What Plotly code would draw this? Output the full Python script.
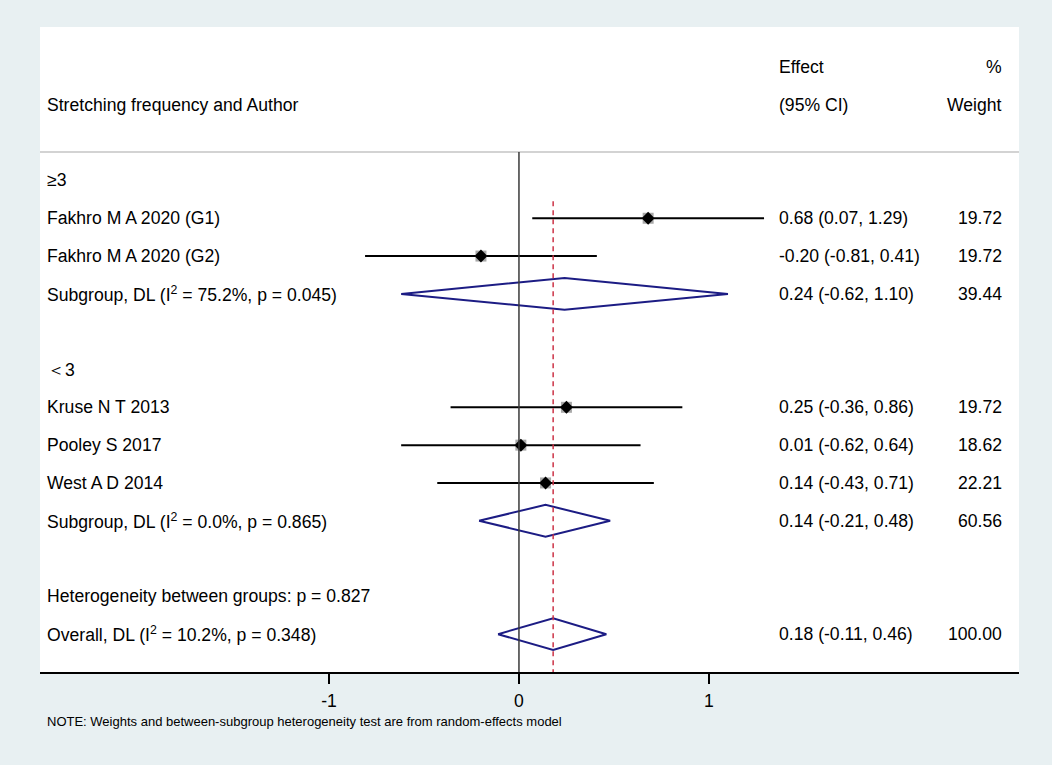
import plotly.graph_objects as go

# ---------------- data ----------------
header_left = "Stretching frequency and Author"
header_effect = ["Effect", "(95% CI)"]
header_weight = ["%", "Weight"]

group_labels = ["≥3", "＜3"]

study_labels = ["Fakhro M A 2020 (G1)", "Fakhro M A 2020 (G2)",
                "Kruse N T 2013", "Pooley S 2017", "West A D 2014"]
study_est = [0.68, -0.20, 0.25, 0.01, 0.14]
study_lo = [0.07, -0.81, -0.36, -0.62, -0.43]
study_hi = [1.29, 0.41, 0.86, 0.64, 0.71]
study_weight = [19.72, 19.72, 19.72, 18.62, 22.21]

pooled_labels = ["Subgroup, DL (I<sup>2</sup> = 75.2%, p = 0.045)",
                 "Subgroup, DL (I<sup>2</sup> = 0.0%, p = 0.865)",
                 "Overall, DL (I<sup>2</sup> = 10.2%, p = 0.348)"]
pooled_est = [0.24, 0.14, 0.18]
pooled_lo = [-0.62, -0.21, -0.11]
pooled_hi = [1.10, 0.48, 0.46]
pooled_weight = [39.44, 60.56, 100.00]

het_label = "Heterogeneity between groups: p = 0.827"
note_text = "NOTE: Weights and between-subgroup heterogeneity test are from random-effects model"
tick_vals = [-1, 0, 1]
tick_text = ["-1", "0", "1"]

# ---------------- layout (row positions) ----------------
group_rows = [3, 8]
study_rows = [4, 5, 9, 10, 11]
pooled_rows = [6, 12, 15]
het_row = 14

FONT = "Arial, 'Liberation Sans', sans-serif"
FS = 17.6
NAVY = "#1c1c84"
BG = "#e8f0f2"

fig = go.Figure()

# CI lines
for r, lo, hi in zip(study_rows, study_lo, study_hi):
    fig.add_trace(go.Scatter(x=[lo, hi], y=[r, r], mode="lines",
                             line=dict(color="black", width=2), hoverinfo="skip"))
# weight boxes
fig.add_trace(go.Scatter(x=study_est, y=study_rows, mode="markers",
                         marker=dict(symbol="square", size=11, color="#a9a9a9",
                                     line=dict(width=0)), hoverinfo="skip"))
# point estimates
fig.add_trace(go.Scatter(x=study_est, y=study_rows, mode="markers",
                         marker=dict(symbol="diamond", size=10, color="black",
                                     line=dict(width=0)), hoverinfo="skip"))
# pooled diamonds
H = 0.42
for r, e, lo, hi in zip(pooled_rows, pooled_est, pooled_lo, pooled_hi):
    fig.add_trace(go.Scatter(x=[lo, e, hi, e, lo], y=[r, r - H, r, r + H, r],
                             mode="lines", line=dict(color=NAVY, width=2),
                             hoverinfo="skip"))

shapes = []
# header separator
shapes.append(dict(type="line", xref="paper", yref="y", x0=0, x1=1, y0=2.25, y1=2.25,
                   line=dict(color="#c4c4c4", width=1.5)))
# null line
shapes.append(dict(type="line", xref="x", yref="y", x0=0, x1=0, y0=2.25, y1=16,
                   line=dict(color="#3a3a3a", width=1.5)))
# overall effect dashed line
shapes.append(dict(type="line", xref="x", yref="y", x0=pooled_est[-1], x1=pooled_est[-1],
                   y0=3.55, y1=16, line=dict(color="#cc3347", width=1.5, dash="5px,4px")))

ann = []
def txt(x, y, s, anchor="left", size=FS, xref="paper", yref="y"):
    ann.append(dict(x=x, y=y, xref=xref, yref=yref, text=s, showarrow=False,
                    xanchor=anchor, yanchor="middle",
                    font=dict(family=FONT, size=size, color="black")))

XL = 0.0052   # label column
XE = 0.7529   # effect column (left)
XW = 0.9846   # weight column (right)

txt(XL, 1, header_left)
txt(XE, 0, header_effect[0]); txt(XE, 1, header_effect[1])
txt(XW, 0, header_weight[0], "right"); txt(XW, 1, header_weight[1], "right")

for r, g in zip(group_rows, group_labels):
    txt(XL, r, g)
for r, lab, e, lo, hi, w in zip(study_rows, study_labels, study_est, study_lo, study_hi, study_weight):
    txt(XL, r, lab)
    txt(XE, r, f"{e:.2f} ({lo:.2f}, {hi:.2f})")
    txt(XW, r, f"{w:.2f}", "right")
for r, lab, e, lo, hi, w in zip(pooled_rows, pooled_labels, pooled_est, pooled_lo, pooled_hi, pooled_weight):
    txt(XL, r, lab)
    txt(XE, r, f"{e:.2f} ({lo:.2f}, {hi:.2f})")
    txt(XW, r, f"{w:.2f}", "right")
txt(XL, het_row, het_label)
txt(XL, -0.0775, note_text, size=13, yref="paper")

fig.update_layout(
    width=1044, height=757,
    margin=dict(l=32, r=33, t=19, b=93),
    paper_bgcolor=BG, plot_bgcolor="white",
    showlegend=False,
    shapes=shapes, annotations=ann,
    xaxis=dict(range=[-2.521, 2.632], showgrid=False, zeroline=False,
               showline=True, linecolor="black", linewidth=1.5,
               ticks="outside", ticklen=10, tickwidth=1.5, tickcolor="black",
               tickvals=tick_vals, ticktext=tick_text,
               tickfont=dict(family=FONT, size=FS, color="black"),
               ticklabelstandoff=2, fixedrange=True),
    yaxis=dict(range=[16, -1.058], showgrid=False, zeroline=False,
               showticklabels=False, showline=False, fixedrange=True),
)

fig.write_html("out.html", post_script=f"document.body.style.background='{BG}';")
